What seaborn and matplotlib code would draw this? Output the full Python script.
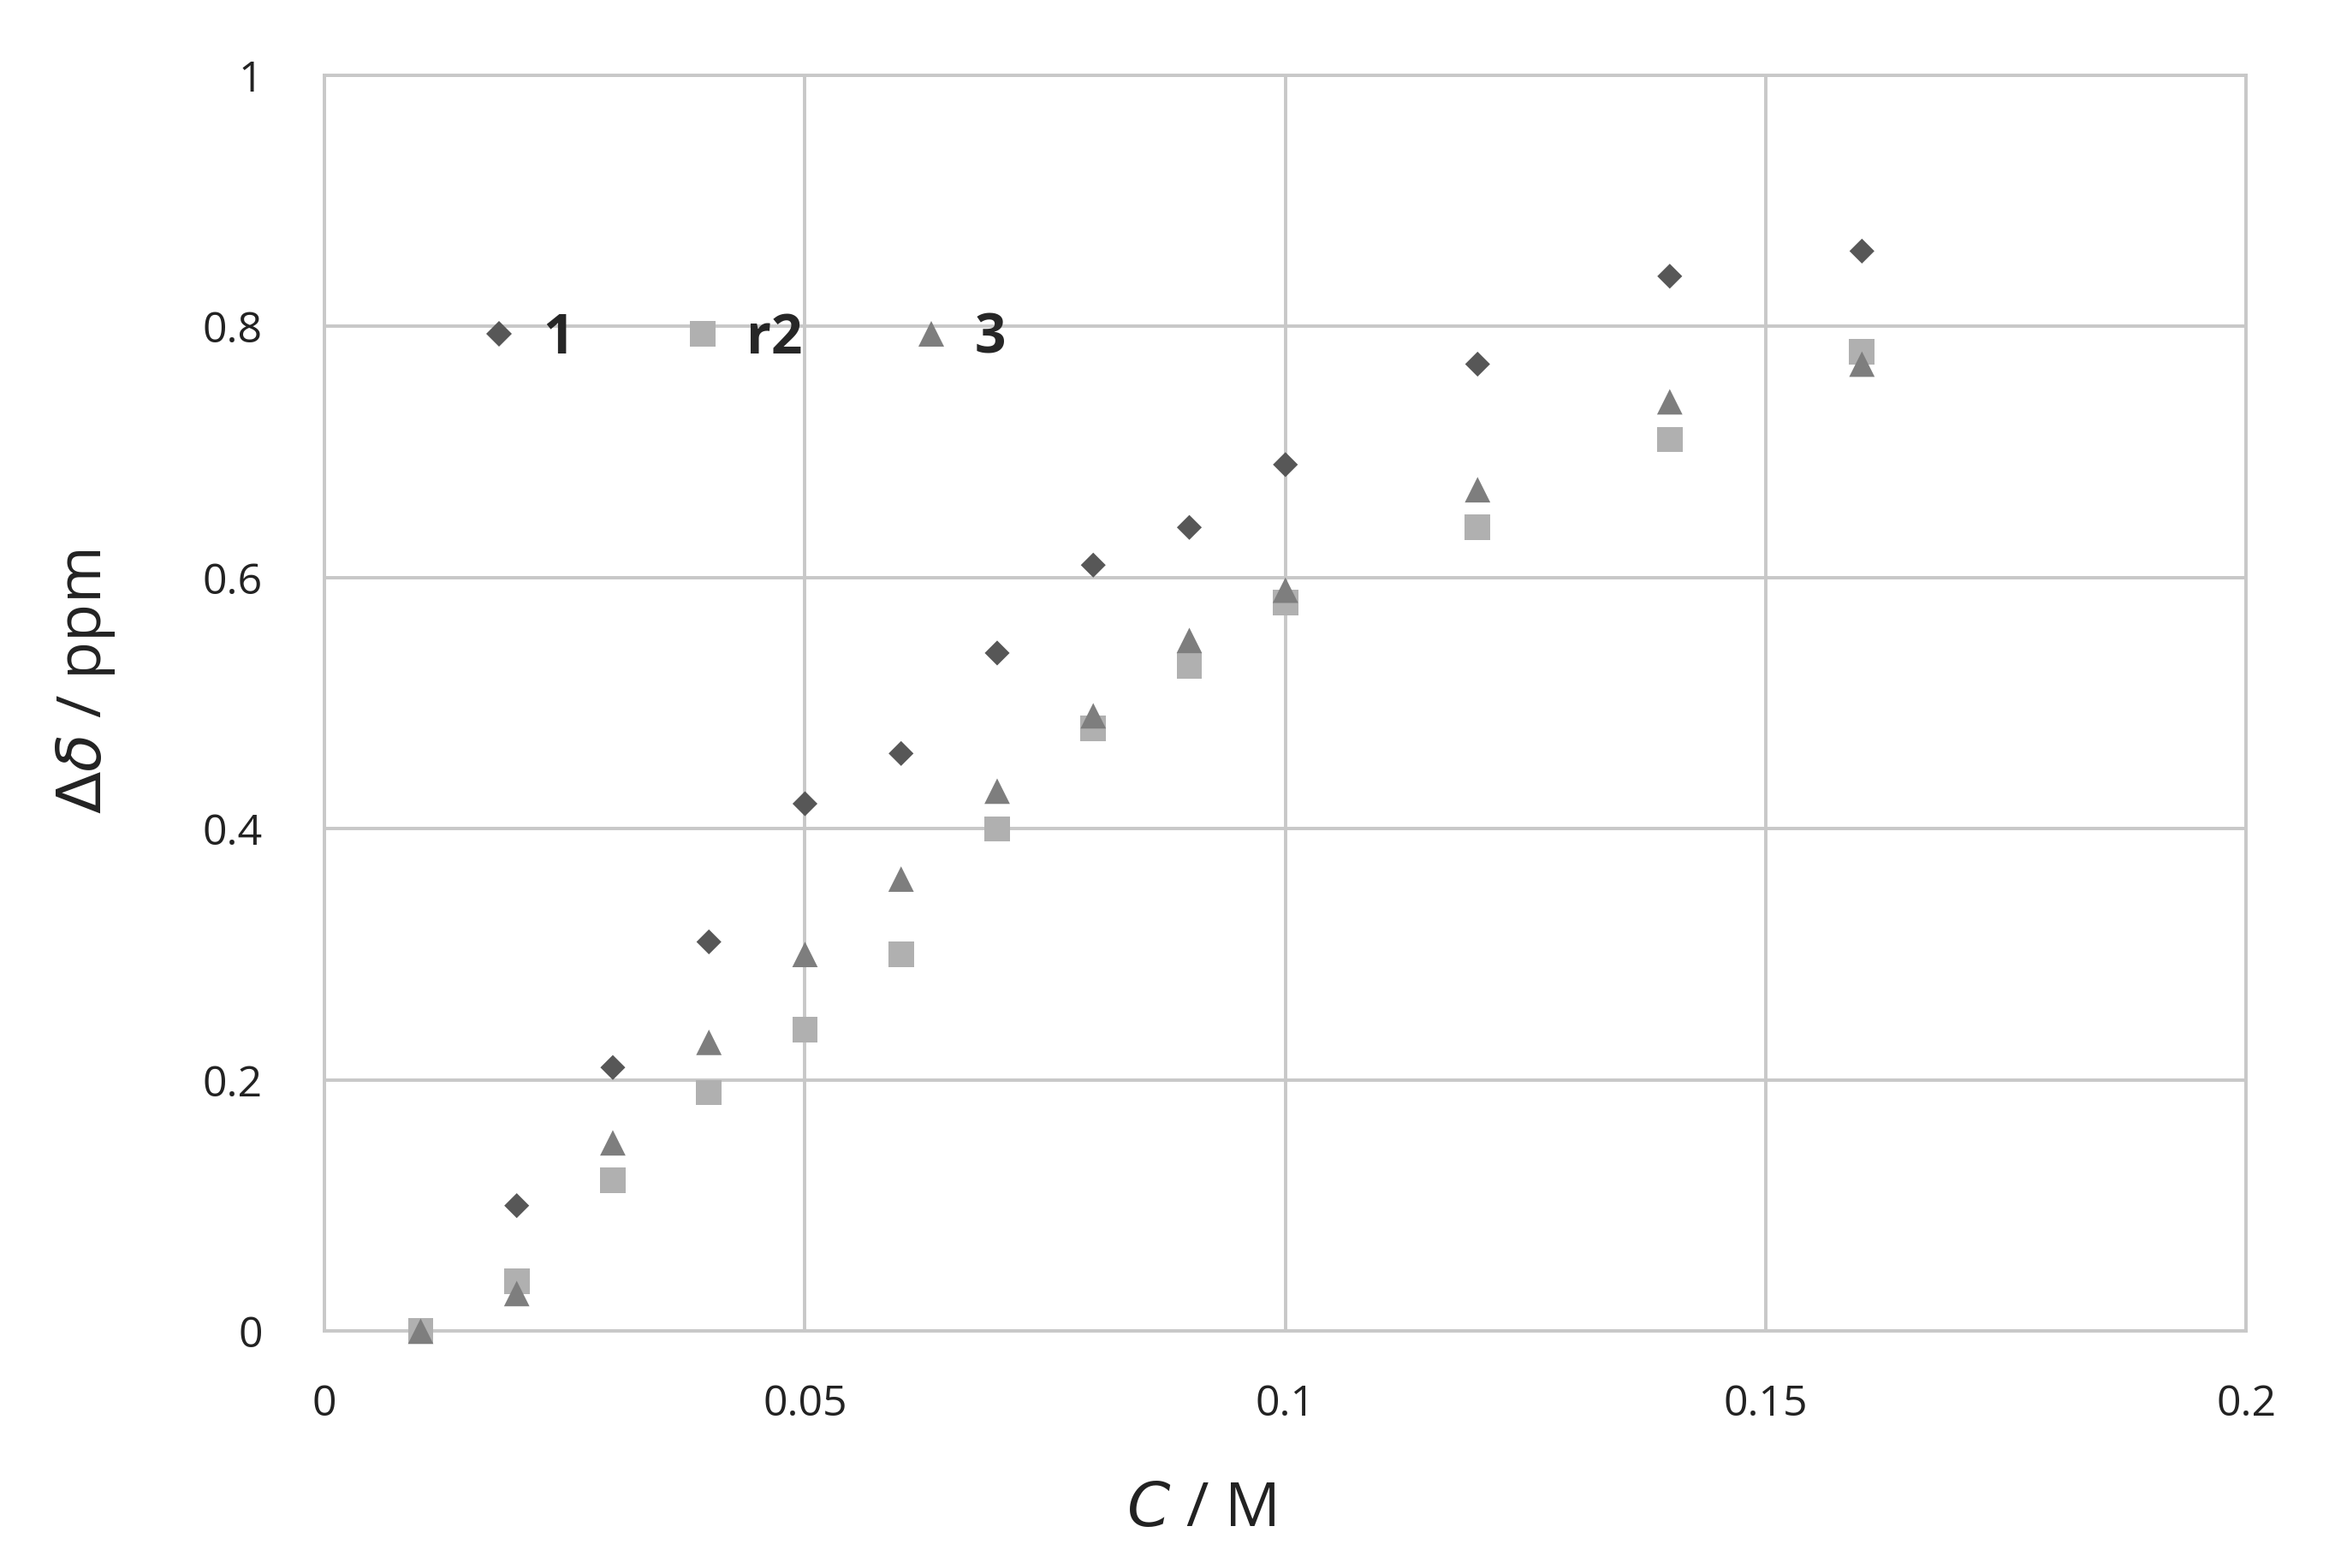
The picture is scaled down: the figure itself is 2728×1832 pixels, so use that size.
import seaborn as sns
import matplotlib.pyplot as plt
import pandas as pd

conc = [0.01, 0.02, 0.03, 0.04, 0.05, 0.06, 0.07, 0.08, 0.09, 0.10, 0.12, 0.14, 0.16]
shift_1 = [0.0, 0.10, 0.21, 0.31, 0.42, 0.46, 0.54, 0.61, 0.64, 0.69, 0.77, 0.84, 0.86]
shift_2 = [0.0, 0.04, 0.12, 0.19, 0.24, 0.30, 0.40, 0.48, 0.53, 0.58, 0.64, 0.71, 0.78]
shift_3 = [0.0, 0.03, 0.15, 0.23, 0.30, 0.36, 0.43, 0.49, 0.55, 0.59, 0.67, 0.74, 0.77]
series_names = ["1", "r2", "3"]

xticks = [0, 0.05, 0.1, 0.15, 0.2]
xtick_labels = ["0", "0.05", "0.1", "0.15", "0.2"]
yticks = [0, 0.2, 0.4, 0.6, 0.8, 1]
ytick_labels = ["0", "0.2", "0.4", "0.6", "0.8", "1"]

df = pd.concat([
    pd.DataFrame({"C": conc, "shift": s, "series": name})
    for name, s in zip(series_names, [shift_1, shift_2, shift_3])
])

sns.set_style("white")
plt.rcParams["font.family"] = ["Open Sans", "DejaVu Sans"]
plt.rcParams["mathtext.fontset"] = "dejavusans"

fig = plt.figure(figsize=(13.64, 9.16), dpi=200)
ax = fig.add_axes([0.139, 0.151, 0.823, 0.801])

palette = {"1": "#575757", "r2": "#b0b0b0", "3": "#7e7e7e"}
markers = {"1": "D", "r2": "s", "3": "^"}
sizes = {"1": 55, "r2": 115, "3": 115}

sns.scatterplot(data=df, x="C", y="shift", hue="series", style="series",
                size="series", palette=palette, markers=markers, sizes=sizes,
                linewidth=0, clip_on=False, zorder=3, ax=ax)

ax.set_xlim(0, 0.2)
ax.set_ylim(0, 1)
ax.set_xticks(xticks)
ax.set_xticklabels(xtick_labels)
ax.set_yticks(yticks)
ax.set_yticklabels(ytick_labels)
ax.tick_params(labelsize=18, colors="#222222", length=0)
ax.tick_params(axis="x", pad=22)
ax.tick_params(axis="y", pad=26)
ax.grid(True, color="#c8c8c8", linewidth=1.4)
for side in ["left", "right", "top", "bottom"]:
    ax.spines[side].set_color("#c8c8c8")
    ax.spines[side].set_linewidth(1.4)

ax.set_xlabel(r"$\mathit{C}$ / M", fontsize=26, color="#222222")
ax.set_ylabel(r"$\mathit{\Delta\delta}$ / ppm", fontsize=26, color="#222222")
ax.xaxis.set_label_coords(0.456, -0.118)
ax.yaxis.set_label_coords(-0.108, 0.517)

sns.move_legend(ax, loc="center left", bbox_to_anchor=(0.051, 0.79), ncol=3,
                frameon=False, title=None, handlelength=1.0, handletextpad=0.3,
                columnspacing=1.85, prop={"size": 23, "weight": "bold"})

fig.savefig("out.png", dpi=200)
